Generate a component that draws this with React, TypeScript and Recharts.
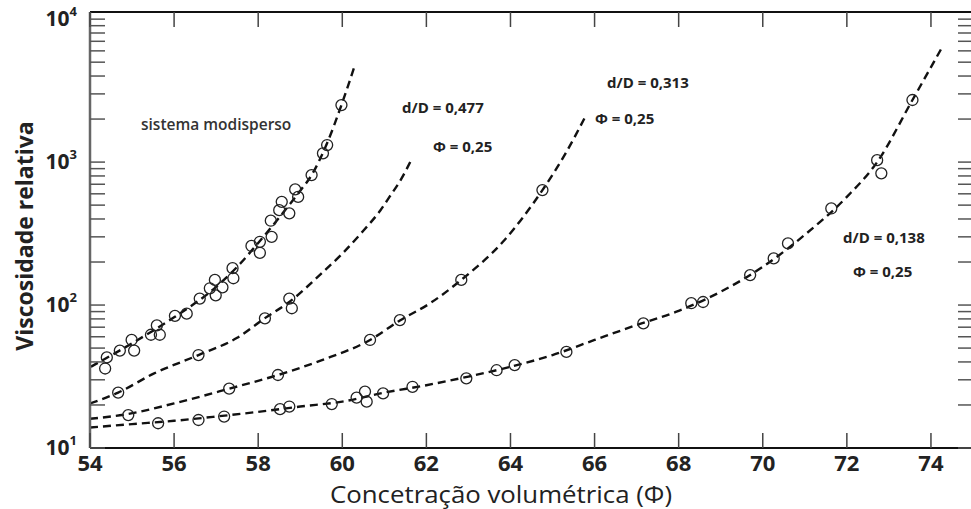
import React from "react";
import { ComposedChart, Line, Scatter, XAxis, YAxis } from "recharts";

// monodisperse system: fitted curve + measurements
const monoFitPhi = [54.02, 55, 56, 57, 57.5, 58, 58.68, 59, 59.27, 59.62, 59.98, 60.3];
const monoFitVisc = [37, 54, 82, 134, 185, 272, 477, 630, 811, 1316, 2506, 4770];
const monoPhi = [54.36, 54.4, 54.71, 54.99, 55.05, 55.45, 55.59, 55.66, 56.02, 56.3, 56.61, 56.85, 56.97, 56.99, 57.15, 57.39, 57.41, 57.84, 58.04, 58.04, 58.32, 58.3, 58.5, 58.56, 58.74, 58.88, 58.95, 59.27, 59.54, 59.64, 59.98];
const monoVisc = [36, 43, 48, 57, 48, 62, 72, 62, 84, 87, 111, 131, 150, 117, 133, 181, 154, 259, 277, 232, 300, 389, 461, 527, 438, 644, 571, 811, 1151, 1316, 2506];

// d/D = 0,477
const d477FitPhi = [54.0, 54.67, 55.5, 56.58, 57.5, 58.16, 58.74, 59.5, 60, 60.5, 60.9, 61.13, 61.4, 61.65];
const d477FitVisc = [20.5, 24.4, 33, 44.7, 59, 81, 105, 166, 229, 331, 457, 575, 760, 1050];
const d477Phi = [54.67, 56.58, 58.16, 58.74, 58.8];
const d477Visc = [24.4, 44.7, 80.7, 111, 95];

// d/D = 0,313
const d313FitPhi = [54.0, 54.91, 56, 57.31, 58.47, 59.5, 60.66, 61.37, 62.09, 62.83, 63.82, 64.76, 65.31, 65.8];
const d313FitVisc = [16, 17.3, 20.5, 26, 32.4, 41, 57, 78, 103, 150, 277, 637, 1150, 2134];
const d313Phi = [54.91, 57.31, 58.47, 60.66, 61.37, 62.83, 64.76];
const d313Visc = [17, 26, 32.4, 57, 78.5, 150, 637];

// d/D = 0,138
const d138FitPhi = [54, 55, 56, 57, 58, 59, 60, 61, 62, 63, 64, 65, 66, 67, 68, 69, 70, 71, 72, 72.72, 73.56, 74.25];
const d138FitVisc = [13.9, 14.7, 15.5, 16.6, 17.9, 19.5, 21.1, 24.4, 27.5, 31.6, 37, 44.7, 57, 72.5, 91, 124, 185, 310, 571, 1000, 2718, 6240];
const d138Phi = [55.62, 56.58, 57.19, 58.52, 58.74, 59.75, 60.34, 60.54, 60.58, 60.97, 61.67, 62.95, 63.67, 64.1, 65.33, 67.16, 68.3, 68.58, 69.7, 70.26, 70.6, 71.63, 72.72, 72.82, 73.56];
const d138Visc = [14.9, 15.7, 16.6, 18.7, 19.5, 20.3, 22.5, 24.8, 21.1, 24.1, 26.8, 30.7, 35, 38, 47, 74.5, 103, 105, 162, 212, 270, 474, 1032, 834, 2718];

const xTicks = [54, 56, 58, 60, 62, 64, 66, 68, 70, 72, 74];
const yTicks = [
  10, 20, 30, 40, 50, 60, 70, 80, 90,
  100, 200, 300, 400, 500, 600, 700, 800, 900,
  1000, 2000, 3000, 4000, 5000, 6000, 7000, 8000, 9000, 10000,
];
const decadeExp: Record<number, string> = { 10: "1", 100: "2", 1000: "3", 10000: "4" };

const notes = {
  mono: "sistema modisperso",
  d477: "d/D = 0,477",
  d313: "d/D = 0,313",
  d138: "d/D = 0,138",
  phi: "Φ = 0,25",
};

const rows = (xs: number[], ys: number[]) => xs.map((x, i) => ({ x, y: ys[i] }));

const FONT = "'Open Sans', 'DejaVu Sans', sans-serif";
const TICK = 15;

const BottomTick = ({ x, y, payload }: any) => (
  <g>
    <line x1={x} x2={x} y1={y} y2={y - TICK} stroke="#444" strokeWidth={1.5} />
    <text x={x} y={y + 23} textAnchor="middle" fontFamily={FONT} fontWeight={700} fontSize={22} fill="#222">
      {payload.value}
    </text>
  </g>
);

const TopTick = ({ x, y }: any) => (
  <line x1={x} x2={x} y1={y} y2={y + TICK} stroke="#444" strokeWidth={1.5} />
);

const LeftTick = ({ x, y, payload }: any) => {
  const exp = decadeExp[payload.value];
  return (
    <g>
      <line x1={x} x2={x + TICK} y1={y} y2={y} stroke="#555" strokeWidth={1.5} />
      {exp && (
        <text x={x - 13} y={y + 7} textAnchor="end" fontFamily={FONT} fontWeight={700} fontSize={21} fill="#222">
          <tspan>10</tspan>
          <tspan dy={-10} fontSize={13}>{exp}</tspan>
        </text>
      )}
    </g>
  );
};

const RightTick = ({ x, y }: any) => (
  <line x1={x} x2={x - TICK} y1={y} y2={y} stroke="#555" strokeWidth={1.5} />
);

const Ring = (p: any) => (
  <circle cx={p.cx} cy={p.cy} r={5.5} fill="none" stroke="#222" strokeWidth={1.3} />
);

const fits = [
  rows(monoFitPhi, monoFitVisc),
  rows(d477FitPhi, d477FitVisc),
  rows(d313FitPhi, d313FitVisc),
  rows(d138FitPhi, d138FitVisc),
];
const measured = [
  rows(monoPhi, monoVisc),
  rows(d477Phi, d477Visc),
  rows(d313Phi, d313Visc),
  rows(d138Phi, d138Visc),
];

export default function App() {
  const note = { fontFamily: FONT, fontWeight: 700, fontSize: 15, fill: "#222" };
  return (
    <div style={{ position: "absolute", left: 0, top: 0, width: 971, height: 509, overflow: "hidden", background: "#fff" }}>
      <ComposedChart width={1000} height={509} margin={{ top: 0, right: 0, bottom: 0, left: 0 }}>
        <XAxis
          xAxisId="bottom"
          dataKey="x"
          type="number"
          domain={[54, 75]}
          allowDataOverflow
          ticks={xTicks}
          interval={0}
          height={61}
          tickSize={0}
          tickMargin={0}
          tick={BottomTick}
          tickLine={false}
          axisLine={{ stroke: "#111", strokeWidth: 2 }}
        />
        <XAxis
          xAxisId="top"
          orientation="top"
          dataKey="x"
          type="number"
          domain={[54, 75]}
          allowDataOverflow
          ticks={xTicks}
          interval={0}
          height={12}
          tickSize={0}
          tickMargin={0}
          tick={TopTick}
          tickLine={false}
          axisLine={{ stroke: "#111", strokeWidth: 2 }}
        />
        <YAxis
          yAxisId="left"
          type="number"
          scale="log"
          domain={[10, 11220]}
          allowDataOverflow
          ticks={yTicks}
          interval={0}
          width={90}
          tickSize={0}
          tickMargin={0}
          tick={LeftTick}
          tickLine={false}
          axisLine={{ stroke: "#666", strokeWidth: 2.5 }}
        />
        <YAxis
          yAxisId="right"
          orientation="right"
          type="number"
          scale="log"
          domain={[10, 11220]}
          allowDataOverflow
          ticks={yTicks}
          interval={0}
          width={27}
          tickSize={0}
          tickMargin={0}
          tick={RightTick}
          tickLine={false}
          axisLine={{ stroke: "#111", strokeWidth: 2 }}
        />
        {fits.map((d, i) => (
          <Line
            key={`fit${i}`}
            xAxisId="bottom"
            yAxisId="left"
            data={d}
            dataKey="y"
            type="monotone"
            stroke="#111"
            strokeWidth={2.4}
            strokeDasharray="8 5"
            dot={false}
            activeDot={false}
            isAnimationActive={false}
          />
        ))}
        {measured.map((d, i) => (
          <Scatter
            key={`pts${i}`}
            xAxisId="bottom"
            yAxisId="left"
            data={d}
            dataKey="y"
            shape={Ring}
            isAnimationActive={false}
          />
        ))}
        <text x={24} y={236} transform="rotate(-90 24 236)" textAnchor="middle" dominantBaseline="central" fontFamily={FONT} fontWeight={700} fontSize={23} fill="#222">
          Viscosidade relativa
        </text>
        <text x={501} y={503} textAnchor="middle" fontFamily={FONT} fontSize={23} textLength={342} lengthAdjust="spacingAndGlyphs" fill="#222">
          Concetração volumétrica (Φ)
        </text>
        <text x={141} y={130} {...note} fontSize={15.5} fontWeight={600} fill="#333">{notes.mono}</text>
        <text x={402} y={113} {...note}>{notes.d477}</text>
        <text x={433} y={152} {...note}>{notes.phi}</text>
        <text x={607} y={88} {...note}>{notes.d313}</text>
        <text x={595} y={124} {...note}>{notes.phi}</text>
        <text x={843} y={243} {...note}>{notes.d138}</text>
        <text x={853} y={277} {...note}>{notes.phi}</text>
      </ComposedChart>
    </div>
  );
}
